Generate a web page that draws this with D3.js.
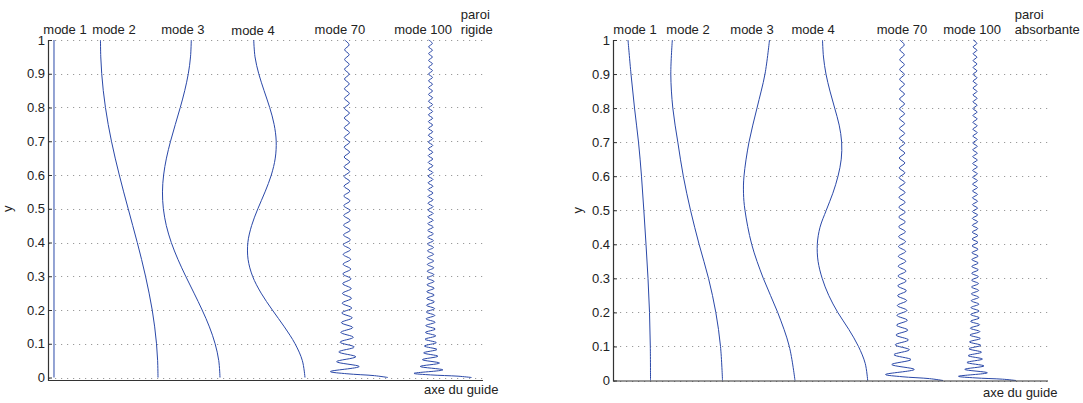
<!DOCTYPE html>
<html><head><meta charset="utf-8">
<script src="https://cdn.jsdelivr.net/npm/d3@7"></script>
<style>
body{margin:0;background:#fff}
text{font-family:"Liberation Sans",Arial,Helvetica,sans-serif;fill:#222}
</style>
</head><body>
<svg id="c" width="1083" height="403"></svg>
<script>
// ---------------- DATA ----------------
const yTicks = [0, 0.1, 0.2, 0.3, 0.4, 0.5, 0.6, 0.7, 0.8, 0.9, 1];
const yTickLabels = ["0", "0.1", "0.2", "0.3", "0.4", "0.5", "0.6", "0.7", "0.8", "0.9", "1"];
const modeNames = ["mode 1", "mode 2", "mode 3", "mode 4", "mode 70", "mode 100"];
const wallRigid = ["paroi", "rigide"];
const wallAbsorb = ["paroi", "absorbante"];
const axisName = "axe du guide";
const yName = "y";

// sampling heights
const yEnds = [0, 1];
const yGrid11 = [0, 0.1, 0.2, 0.3, 0.4, 0.5, 0.6, 0.7, 0.8, 0.9, 1];
const yGrid21 = [0, 0.05, 0.1, 0.15, 0.2, 0.25, 0.3, 0.35, 0.4, 0.45, 0.5, 0.55, 0.6, 0.65, 0.7, 0.75, 0.8, 0.85, 0.9, 0.95, 1];

// mode baselines (offset of each profile along the horizontal axis)
const rigidCenters = [-0.854, 1.683, 3.195, 5.268, 7.29, 9.33];
const absorbCenters = [-0.085, 1.671, 3.439, 5.212, 7.05, 8.83];

// rigid wall profiles
const rigidMode1 = [1, 1];
const rigidMode2 = [1, 0.991, 0.964, 0.919, 0.859, 0.783, 0.696, 0.599, 0.494, 0.384, 0.273, 0.162, 0.056, -0.044, -0.135, -0.215, -0.282, -0.335, -0.373, -0.396, -0.403];
const rigidMode3 = [1, 0.970, 0.881, 0.742, 0.565, 0.367, 0.164, -0.026, -0.188, -0.309, -0.381, -0.403, -0.375, -0.306, -0.206, -0.089, 0.031, 0.140, 0.227, 0.281, 0.300];
const rigidMode4 = [1, 0.936, 0.758, 0.497, 0.204, -0.070, -0.278, -0.388, -0.393, -0.302, -0.149, 0.026, 0.179, 0.275, 0.298, 0.247, 0.139, 0.002, -0.128, -0.219, -0.250];

// absorbing wall profiles
const absMode1 = [1, 0.995, 0.976, 0.939, 0.890, 0.837, 0.780, 0.707, 0.610, 0.524, 0.451];
const absMode2 = [1, 0.951, 0.837, 0.659, 0.429, 0.220, 0.044, -0.090, -0.212, -0.261, -0.224];
const absMode3Y = [0, 0.1, 0.2, 0.3, 0.4, 0.5, 0.55, 0.6, 0.7, 0.8, 0.9, 1];
const absMode3 = [1, 0.861, 0.578, 0.227, -0.056, -0.220, -0.256, -0.244, -0.122, 0.073, 0.268, 0.378];
const absMode4 = [1, 0.940, 0.775, 0.540, 0.270, 0.050, -0.110, -0.210, -0.229, -0.163, -0.010, 0.150, 0.276, 0.355, 0.365, 0.305, 0.195, 0.080, -0.017, -0.078, -0.102];

// high-order modes: successive extrema (axis value, first node, then alternating peaks)
const peakValues = [1, 0.671, 0,
 -0.403, 0.300, -0.250, 0.218, -0.197, 0.180, -0.167, 0.157, -0.148, 0.141,
 -0.134, 0.129, -0.124, 0.119, -0.115, 0.112, -0.108, 0.105, -0.103, 0.100,
 -0.098, 0.095, -0.093, 0.091, -0.090, 0.088, -0.086, 0.085, -0.083, 0.082,
 -0.081, 0.079, -0.078, 0.077, -0.076, 0.075, -0.074, 0.073, -0.072, 0.071,
 -0.070, 0.069, -0.068, 0.068, -0.067, 0.066, -0.066, 0.065, -0.064, 0.063,
 -0.063, 0.062, -0.062, 0.061, -0.061, 0.060, -0.060, 0.059, -0.059, 0.058,
 -0.058, 0.057, -0.057, 0.056, -0.056, 0.055, -0.055, 0.055, -0.054, 0.054,
 -0.053, 0.053, -0.053, 0.052, -0.052, 0.052, -0.051, 0.051, -0.051, 0.050,
 -0.050, 0.050, -0.049, 0.049, -0.049, 0.048, -0.048, 0.048, -0.048, 0.047,
 -0.047, 0.047, -0.047, 0.046, -0.046, 0.046, -0.046, 0.045, -0.045];
const peakY70 = [0, 0.0055, 0.0111,
 0.0176, 0.0325, 0.0469, 0.0614, 0.0758, 0.0903, 0.1047, 0.1191, 0.1336, 0.1480,
 0.1625, 0.1769, 0.1913, 0.2058, 0.2202, 0.2347, 0.2491, 0.2635, 0.2780, 0.2924,
 0.3069, 0.3213, 0.3357, 0.3502, 0.3646, 0.3791, 0.3935, 0.4079, 0.4224, 0.4368,
 0.4513, 0.4657, 0.4801, 0.4946, 0.5090, 0.5235, 0.5379, 0.5523, 0.5668, 0.5812,
 0.5957, 0.6101, 0.6245, 0.6390, 0.6534, 0.6679, 0.6823, 0.6968, 0.7112, 0.7256,
 0.7401, 0.7545, 0.7690, 0.7834, 0.7978, 0.8123, 0.8267, 0.8412, 0.8556, 0.8700,
 0.8845, 0.8989, 0.9134, 0.9278, 0.9422, 0.9567, 0.9711, 0.9856, 1.0000];
const peakY100 = [0, 0.0039, 0.0077,
 0.0123, 0.0227, 0.0327, 0.0428, 0.0529, 0.0630, 0.0730, 0.0831, 0.0932, 0.1033,
 0.1134, 0.1234, 0.1335, 0.1436, 0.1537, 0.1637, 0.1738, 0.1839, 0.1940, 0.2040,
 0.2141, 0.2242, 0.2343, 0.2443, 0.2544, 0.2645, 0.2746, 0.2846, 0.2947, 0.3048,
 0.3149, 0.3250, 0.3350, 0.3451, 0.3552, 0.3653, 0.3753, 0.3854, 0.3955, 0.4056,
 0.4156, 0.4257, 0.4358, 0.4459, 0.4559, 0.4660, 0.4761, 0.4862, 0.4962, 0.5063,
 0.5164, 0.5265, 0.5365, 0.5466, 0.5567, 0.5668, 0.5768, 0.5869, 0.5970, 0.6071,
 0.6171, 0.6272, 0.6373, 0.6474, 0.6574, 0.6675, 0.6776, 0.6877, 0.6977, 0.7078,
 0.7179, 0.7280, 0.7380, 0.7481, 0.7582, 0.7683, 0.7783, 0.7884, 0.7985, 0.8086,
 0.8186, 0.8287, 0.8388, 0.8489, 0.8589, 0.8690, 0.8791, 0.8892, 0.8992, 0.9093,
 0.9194, 0.9295, 0.9395, 0.9496, 0.9597, 0.9698, 0.9798, 0.9899, 1.0000];

// ---------------- LAYOUT ----------------
const svg = d3.select("#c");
const lineColor = "#2a48a8";
const xDomain = [0, 10.61];

const panels = [
  {
    x0: 48, x1: 483, yZero: 377.5, yOne: 40, axisBottom: 380.5,
    centers: rigidCenters,
    modes: [[yEnds, rigidMode1], [yGrid21, rigidMode2], [yGrid21, rigidMode3], [yGrid21, rigidMode4], [peakY70, peakValues], [peakY100, peakValues]],
    labelX: [0.415, 1.61, 3.29, 5.0, 7.12, 9.15], labelDy: [0, 0, 0, 1.5, 0, 0],
    wall: wallRigid, wallX: 10.07, axeX: 424, axeY: 393.5, yLabX: 12
  },
  {
    x0: 613, x1: 1048, yZero: 380.5, yOne: 40, axisBottom: 381,
    centers: absorbCenters,
    modes: [[yGrid11, absMode1], [yGrid11, absMode2], [absMode3Y, absMode3], [yGrid21, absMode4], [peakY70, peakValues], [peakY100, peakValues]],
    labelX: [0.537, 1.83, 3.39, 4.88, 7.05, 8.76], labelDy: [0, 0, 0, 0, 0, 0],
    wall: wallAbsorb, wallX: 9.8, axeX: 983, axeY: 397, yLabX: 582
  }
];

panels.forEach(p => {
  const x = d3.scaleLinear().domain(xDomain).range([p.x0, p.x1]);
  const y = d3.scaleLinear().domain([0, 1]).range([p.yZero, p.yOne]);
  const g = svg.append("g");

  // dotted grid
  g.selectAll("line.grid").data(yTicks).join("line")
    .attr("class", "grid")
    .attr("x1", p.x0 + 1).attr("x2", p.x1)
    .attr("y1", d => Math.round(y(d)) + 0.5).attr("y2", d => Math.round(y(d)) + 0.5)
    .attr("stroke", "#9a9a9a").attr("stroke-width", 1)
    .attr("stroke-dasharray", "1.2 4.8");

  // curves
  const line = d3.line()
    .x(d => x(d[0])).y(d => y(d[1]))
    .curve(d3.curveCatmullRom.alpha(0.5));
  p.modes.forEach(([ys, vals], i) => {
    const pts = d3.zip(ys, vals).map(([yy, v]) => [p.centers[i] + v, yy]);
    g.append("path").datum(pts)
      .attr("d", line)
      .attr("fill", "none")
      .attr("stroke", lineColor)
      .attr("stroke-width", 1);
  });

  // y axis
  const ax = d3.axisLeft(y).tickValues(yTicks)
    .tickFormat((d, i) => yTickLabels[i])
    .tickSizeInner(-4).tickSizeOuter(0).tickPadding(3);
  const axg = g.append("g").attr("transform", `translate(${p.x0},0)`).call(ax);
  axg.select(".domain").remove();
  axg.selectAll(".tick line").attr("stroke", "#333");
  axg.selectAll(".tick text")
    .style("font-family", '"Liberation Sans", Arial, sans-serif')
    .attr("font-size", 13).attr("fill", "#222").attr("x", -3);

  // axis frame (left and bottom)
  g.append("path")
    .attr("d", `M${p.x0 + 0.5},${p.yOne}V${p.axisBottom}H${p.x1}`)
    .attr("fill", "none").attr("stroke", "#333").attr("stroke-width", 1.2);

  // y label
  g.append("text").text(yName)
    .attr("transform", `translate(${p.yLabX},${(p.yZero + p.yOne) / 2}) rotate(-90)`)
    .attr("text-anchor", "middle").attr("font-size", 13);

  // mode labels
  g.selectAll("text.mode").data(modeNames).join("text")
    .attr("class", "mode")
    .attr("x", (d, i) => x(p.labelX[i]))
    .attr("y", (d, i) => 33.5 + p.labelDy[i])
    .attr("text-anchor", "middle").attr("font-size", 13)
    .text(d => d);

  // wall label
  g.selectAll("text.wall").data(p.wall).join("text")
    .attr("class", "wall")
    .attr("x", x(p.wallX))
    .attr("y", (d, i) => 18.5 + i * 15)
    .attr("font-size", 13)
    .text(d => d);

  // guide-axis label
  g.append("text").text(axisName)
    .attr("x", p.axeX).attr("y", p.axeY).attr("font-size", 13);
});
</script>
</body></html>
